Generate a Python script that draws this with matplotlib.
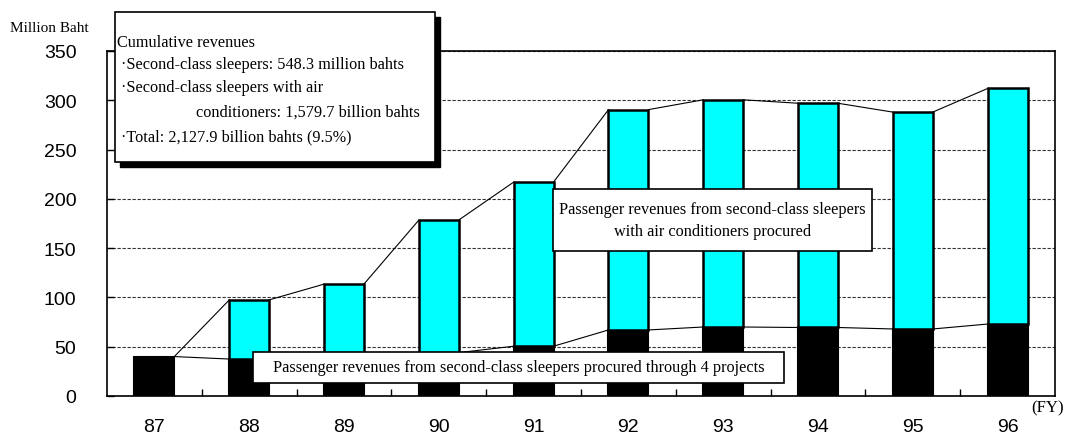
import numpy as np
import matplotlib
matplotlib.use("Agg")
from matplotlib import pyplot as plt
from matplotlib.patches import Rectangle

years = ["87", "88", "89", "90", "91", "92", "93", "94", "95", "96"]
sleepers = [40, 37.5, 40, 44, 50.5, 67, 70, 69.5, 68, 73]          # second-class sleepers (black)
totals = [40, 97.5, 113.5, 178.5, 217, 290.5, 300.5, 297, 288, 312]  # bar tops
with_air = [t - s for t, s in zip(totals, sleepers)]                 # air-conditioned part (cyan)

summary_lines = [
    "Cumulative revenues",
    "\u00b7Second-class sleepers: 548.3 million bahts",
    "\u00b7Second-class sleepers with air",
    "conditioners: 1,579.7 billion bahts",
    "\u00b7Total: 2,127.9 billion bahts (9.5%)",
]

W, H = 1066, 435
serif = "Liberation Serif"
sans = "Liberation Sans"


def px(x, y):
    """pixel coords (top-left origin) -> figure fraction"""
    return x / W, 1 - y / H


fig = plt.figure(figsize=(W / 100, H / 100), dpi=100)
ax = fig.add_axes([107 / W, 1 - 397 / H, (1055 - 107) / W, (397 - 52) / H])

x = np.arange(len(years))
bw = 0.42
ax.bar(x, sleepers, bw, color="black", edgecolor="black", linewidth=1.5, zorder=3)
ax.bar(x, with_air, bw, bottom=sleepers, color="#00ffff", edgecolor="black", linewidth=1.8, zorder=3)

# series lines between neighbouring bars
for series in (totals, sleepers):
    for i in range(len(x) - 1):
        ax.plot([x[i] + bw / 2, x[i + 1] - bw / 2], [series[i], series[i + 1]],
                color="black", linewidth=0.8, zorder=2)

ax.set_xlim(-0.5, len(years) - 0.5)
ax.set_ylim(0, 350)
ax.set_yticks(np.arange(0, 351, 50))
ax.set_xticks(x)
ax.set_xticklabels(years, fontfamily=sans, fontsize=14)
ax.set_xticks(x[:-1] + 0.5, minor=True)
for lab in ax.get_yticklabels():
    lab.set_fontfamily(sans)
    lab.set_fontsize(14)
ax.tick_params(axis="x", which="major", length=0, pad=16)
ax.tick_params(axis="x", which="minor", direction="in", length=5, width=1)
ax.tick_params(axis="y", direction="in", length=5, width=1, pad=22)
for s in ax.spines.values():
    s.set_linewidth(1.2)
    s.set_zorder(4)
ax.yaxis.grid(True, linestyle=(0, (3, 1.5)), color="#333333", linewidth=0.8, zorder=1)

fig.text(*px(10, 28), "Million Baht", fontfamily=serif, fontsize=11, va="center", ha="left")
fig.text(*px(1064, 408), "(FY)", fontfamily=serif, fontsize=12, va="center", ha="right")

# summary box with drop shadow
x0, y0, x1, y1 = 115, 13, 435, 163
fx0, fy1 = px(x0, y0)
fx1, fy0 = px(x1, y1)
fig.patches.append(Rectangle((fx0 + 5 / W, fy0 - 5 / H), fx1 - fx0, fy1 - fy0,
                             transform=fig.transFigure, facecolor="black", edgecolor="black", zorder=5))
fig.patches.append(Rectangle((fx0, fy0), fx1 - fx0, fy1 - fy0,
                             transform=fig.transFigure, facecolor="white", edgecolor="black",
                             linewidth=1.2, zorder=6))
line_pos = [(117, 43), (121, 65), (121, 88), (196, 113), (121, 137)]
for (tx, ty), txt in zip(line_pos, summary_lines):
    fig.text(*px(tx, ty), txt, fontfamily=serif, fontsize=11.7, va="center", ha="left", zorder=7)

# callout boxes
for (bx0, by0, bx1, by1), txt in [
    ((553, 190, 872, 252), "Passenger revenues from second-class sleepers\nwith air conditioners procured"),
    ((253, 353, 784, 384), "Passenger revenues from second-class sleepers procured through 4 projects"),
]:
    a, b = px(bx0, by1)
    c, d = px(bx1, by0)
    fig.patches.append(Rectangle((a, b), c - a, d - b, transform=fig.transFigure,
                                 facecolor="white", edgecolor="black", linewidth=1.2, zorder=6))
    fig.text((a + c) / 2, (b + d) / 2, txt, fontfamily=serif, fontsize=11.7,
             ha="center", va="center", linespacing=1.45, zorder=7)

fig.savefig("out.png", dpi=100)
plt.close(fig)
